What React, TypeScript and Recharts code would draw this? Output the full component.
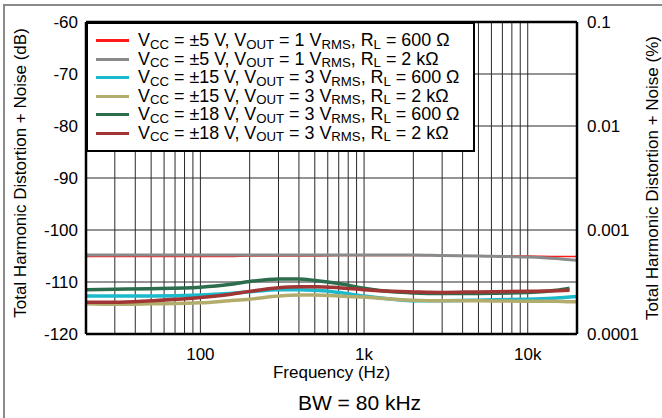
import React from 'react';
import { LineChart, Line, XAxis, YAxis, CartesianGrid, ReferenceLine, Legend, Label } from 'recharts';

const FONT = '"Liberation Sans", Arial, sans-serif';

// Frequencies (Hz) at which the curves are sampled
const freqs = [20, 30, 50, 100, 150, 200, 300, 400, 500, 700, 1000, 1500, 2000, 3000, 5000, 10000, 15000, 18000, 20000];

// THD+N (dB) per series
const vcc5_600 = [-105.1, -105.1, -105.1, -105.1, -105.1, -105.0, -105.0, -105.0, -105.0, -104.9, -104.9, -104.9, -104.9, -104.9, -105.0, -105.0, -105.1, -105.1, -105.1];
const vcc5_2k = [-104.8, -104.8, -104.8, -104.8, -104.8, -104.8, -104.8, -104.8, -104.8, -104.8, -104.8, -104.8, -104.8, -104.9, -105.0, -105.2, -105.5, -105.7, -105.8];
const vcc15_600 = [-112.7, -112.7, -112.7, -112.5, -112.2, -111.9, -111.5, -111.5, -111.6, -112.0, -112.7, -113.3, -113.6, -113.6, -113.5, -113.3, -113.1, -112.9, -112.8];
const vcc15_2k = [-114.2, -114.3, -114.2, -114.0, -113.6, -113.3, -112.7, -112.5, -112.5, -112.7, -112.9, -113.3, -113.5, -113.6, -113.6, -113.7, -113.7, -113.8, -113.8];
const vcc18_600 = [-111.5, -111.4, -111.3, -111.0, -110.5, -109.9, -109.4, -109.4, -109.7, -110.3, -111.2, -111.9, -112.1, -112.2, -112.2, -112.0, -111.6, -111.2, null];
const vcc18_2k = [-113.9, -113.9, -113.6, -113.0, -112.4, -111.8, -111.1, -110.9, -110.9, -111.1, -111.5, -111.8, -111.9, -112.0, -111.9, -111.8, -111.7, -111.6, null];

// Legend texts
const vccLabels = ['±5 V', '±5 V', '±15 V', '±15 V', '±18 V', '±18 V'];
const voutLabels = ['1', '1', '3', '3', '3', '3'];
const rlLabels = ['600 Ω', '2 kΩ', '600 Ω', '2 kΩ', '600 Ω', '2 kΩ'];

// Axis ticks
const gridFreqs = [30, 40, 50, 60, 70, 80, 90, 100, 200, 300, 400, 500, 600, 700, 800, 900, 1000, 2000, 3000, 4000, 5000, 6000, 7000, 8000, 9000, 10000];
const freqTickValues = [100, 1000, 10000];
const freqTickLabels = ['100', '1k', '10k'];
const dbTicks = [-120, -110, -100, -90, -80, -70, -60];
const pctTicks = [-120, -100, -80, -60];
const pctLabels = ['0.0001', '0.001', '0.01', '0.1'];

const allSeries = [vcc5_600, vcc5_2k, vcc15_600, vcc15_2k, vcc18_600, vcc18_2k];
const colors = ['#ff1a1a', '#8a8a8a', '#1ab9cc', '#b3ad6d', '#2b6d4c', '#a03533'];
const widths = [1.5, 3, 3.5, 3.5, 3.5, 3.5];
// the last series is bound to the right (%) axis, which has the same dB range
const axisIds = ['left', 'left', 'left', 'left', 'left', 'right'];

const seriesData = allSeries.map((vals) => freqs.map((f, i) => ({ f, db: vals[i] })));

const subStyle: React.CSSProperties = {
  fontSize: 13.2,
  verticalAlign: 'baseline',
  position: 'relative',
  top: 2.5,
  lineHeight: 0,
};

const renderLegend = () => (
  <div
    style={{
      width: 389,
      height: 130,
      boxSizing: 'border-box',
      border: '2.5px solid #000',
      background: '#fff',
      paddingTop: 7.25,
      fontFamily: FONT,
      fontSize: 17.9,
      color: '#000',
    }}
  >
    {vccLabels.map((v, i) => (
      <div
        key={i}
        style={{ height: 18.5, lineHeight: '18.5px', display: 'flex', alignItems: 'center', whiteSpace: 'nowrap' }}
      >
        <span style={{ display: 'inline-block', width: 33, height: 3, background: colors[i], marginLeft: 7.5, marginRight: 9.5 }} />
        <span>
          V<sub style={subStyle}>CC</sub> = {v}, V<sub style={subStyle}>OUT</sub> = {voutLabels[i]} V
          <sub style={subStyle}>RMS</sub>, R<sub style={subStyle}>L</sub> = {rlLabels[i]}
        </span>
      </div>
    ))}
  </div>
);

const fmtFreq = (f: number) => {
  const idx = freqTickValues.indexOf(f);
  return idx >= 0 ? freqTickLabels[idx] : '';
};
const fmtPct = (d: number) => {
  const idx = pctTicks.indexOf(d);
  return idx >= 0 ? pctLabels[idx] : '';
};

const textStyle = { fontFamily: FONT, fill: '#000' };

export default function App() {
  return (
    <div style={{ position: 'absolute', left: 0, top: 0, width: 662, height: 418, overflow: 'hidden', background: '#fff' }}>
      <LineChart width={662} height={418} margin={{ top: 22, right: 0, bottom: 0, left: 0 }}>
        <CartesianGrid stroke="#2a2a2a" strokeWidth={1} yAxisId="left" />
        <XAxis
          dataKey="f"
          type="number"
          scale="log"
          domain={[20, 20000]}
          allowDataOverflow
          ticks={gridFreqs}
          interval={0}
          tickFormatter={fmtFreq}
          tickLine={false}
          axisLine={{ stroke: '#000', strokeWidth: 2.5 }}
          height={84}
          tickMargin={8}
          tick={{ fontSize: 17, fill: '#000', fontFamily: FONT }}
        >
          <Label
            content={(props: any) => {
              const vb = props.viewBox || { x: 86, y: 334, width: 491 };
              return (
                <g>
                  <text x={vb.x + vb.width / 2} y={vb.y + 44} textAnchor="middle" fontSize={17} style={textStyle}>
                    Frequency (Hz)
                  </text>
                  <text x={vb.x + vb.width / 2 + 28} y={vb.y + 76} textAnchor="middle" fontSize={21} style={textStyle}>
                    BW = 80 kHz
                  </text>
                </g>
              );
            }}
          />
        </XAxis>
        <YAxis
          yAxisId="left"
          domain={[-120, -60]}
          allowDataOverflow
          ticks={dbTicks}
          interval={0}
          width={86}
          tickLine={false}
          axisLine={{ stroke: '#000', strokeWidth: 2.5 }}
          tick={{ fontSize: 17, fill: '#000', fontFamily: FONT }}
        >
          <Label
            content={(props: any) => {
              const vb = props.viewBox || { x: 0, y: 22, width: 86, height: 312 };
              const cx = 26;
              const cy = vb.y + vb.height / 2 - 5;
              return (
                <text x={cx} y={cy} textAnchor="middle" fontSize={17} transform={`rotate(-90, ${cx}, ${cy})`} style={textStyle}>
                  Total Harmonic Distortion + Noise (dB)
                </text>
              );
            }}
          />
        </YAxis>
        <YAxis
          yAxisId="right"
          orientation="right"
          domain={[-120, -60]}
          allowDataOverflow
          ticks={pctTicks}
          interval={0}
          tickFormatter={fmtPct}
          width={85}
          tickMargin={4}
          tickLine={false}
          axisLine={{ stroke: '#000', strokeWidth: 2.5 }}
          tick={{ fontSize: 17, fill: '#000', fontFamily: FONT, textAnchor: 'start' }}
        >
          <Label
            content={(props: any) => {
              const vb = props.viewBox || { x: 577, y: 22, width: 85, height: 312 };
              const cx = 658;
              const cy = vb.y + vb.height / 2;
              return (
                <text x={cx} y={cy} textAnchor="middle" fontSize={17} transform={`rotate(-90, ${cx}, ${cy})`} style={textStyle}>
                  Total Harmonic Distortion + Noise (%)
                </text>
              );
            }}
          />
        </YAxis>
        <ReferenceLine yAxisId="left" y={-60} stroke="#000" strokeWidth={2.5} />
        {seriesData.map((d, i) => (
          <Line
            key={i}
            yAxisId={axisIds[i]}
            data={d}
            dataKey="db"
            type="monotone"
            stroke={colors[i]}
            strokeWidth={widths[i]}
            dot={false}
            activeDot={false}
            isAnimationActive={false}
            connectNulls={false}
          />
        ))}
        <Legend
          content={renderLegend}
          layout="vertical"
          align="center"
          verticalAlign="middle"
          wrapperStyle={{ left: 86, top: 22, width: 389, height: 130 }}
        />
      </LineChart>
      <div
        style={{
          position: 'absolute',
          left: 3,
          top: 4,
          width: 720,
          height: 480,
          border: '2px solid #8a8a8a',
          boxSizing: 'border-box',
          pointerEvents: 'none',
        }}
      />
    </div>
  );
}
